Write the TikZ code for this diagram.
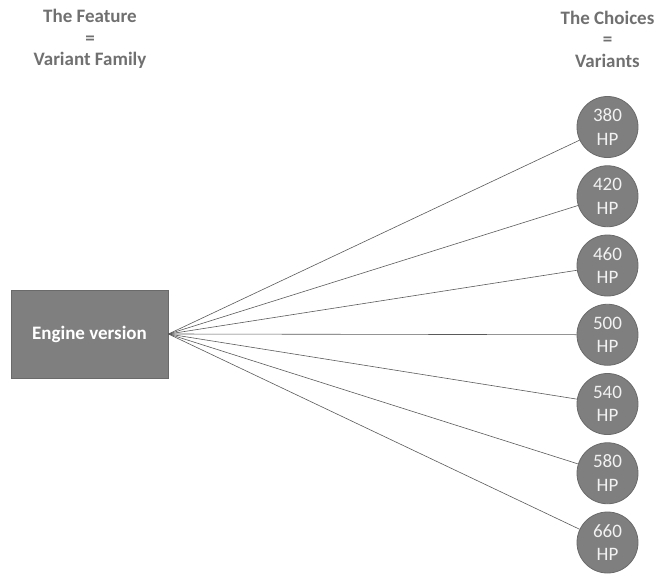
\documentclass[tikz,border=0pt]{standalone}
\usepackage{fontspec}
\setmainfont{Carlito}
\definecolor{headgray}{HTML}{707070}
\definecolor{fillgray}{HTML}{7F7F7F}
\definecolor{edgegray}{HTML}{6A6A6A}
\definecolor{linegray}{HTML}{5A5A5A}
\begin{document}
\begin{tikzpicture}[x=1pt,y=-1pt,
  header/.style={align=center,text=headgray,font=\fontsize{19}{21.5}\selectfont\bfseries,inner sep=0pt},
  featurebox/.style={draw=edgegray,fill=fillgray,line width=0.8pt,minimum width=157pt,minimum height=88pt,inner sep=0pt,text=white,font=\fontsize{19}{22}\selectfont\bfseries},
  variant/.style={circle,draw=edgegray,fill=fillgray,line width=0.8pt,minimum size=61pt,inner sep=0pt,align=center,text=white!95!black,font=\fontsize{19}{23.5}\selectfont},
  link/.style={draw=linegray,line width=0.6pt}]
\useasboundingbox (0,0) rectangle (657,574);

% column headings
\node[header] (hfeat) at (90,39) {The Feature\\=\\Variant Family};
\node[header] (hchoice) at (607.5,39) {The Choices\\=\\Variants};

% the feature
\node[featurebox] (eng) at (89.5,334) {Engine version};

% the variants
\foreach \v [count=\i from 0] in {380,420,460,500,540,580,660} {
  \node[variant] (c\i) at (607.5,{127+69.25*\i}) {\v\\HP};
  \draw[link] (eng.east) -- (c\i);
}
\end{tikzpicture}
\end{document}
